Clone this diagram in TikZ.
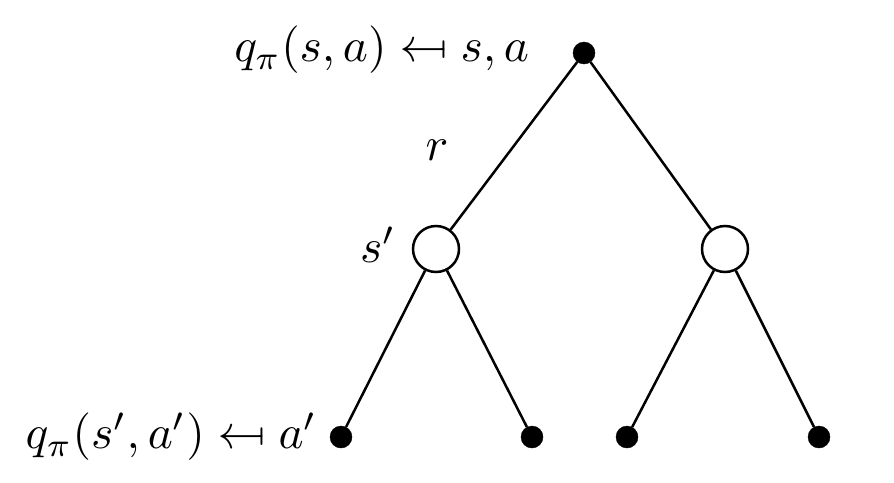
\documentclass[tikz,border=0pt]{standalone}
\usepackage{graphicx}
\newcommand{\myfrom}{\mathrel{\reflectbox{$\mapsto$}}}
\tikzset{
  leaf/.style={circle,fill=black,draw=black,inner sep=0pt,minimum size=22pt},
  chance/.style={circle,fill=white,draw=black,line width=2.5pt,inner sep=0pt,minimum size=46pt},
  edge/.style={line width=2.5pt},
  lbl/.style={inner sep=0pt,scale=4.75}
}
\begin{document}
\begin{tikzpicture}[x=1pt,y=-1pt]
\useasboundingbox (0,0) rectangle (894,482);
\node[leaf] (root) at (584,53) {};
\node[chance] (c1) at (436,249) {};
\node[chance] (c2) at (725,249) {};
\node[leaf] (l1) at (341,437) {};
\node[leaf] (l2) at (532,437) {};
\node[leaf] (l3) at (627,437) {};
\node[leaf] (l4) at (819,437) {};
\draw[edge] (root) -- (c1);
\draw[edge] (root) -- (c2);
\draw[edge] (c1) -- (l1);
\draw[edge] (c1) -- (l2);
\draw[edge] (c2) -- (l3);
\draw[edge] (c2) -- (l4);
\node[lbl,anchor=east] (t1) at (530,50) {$q_\pi(s,a)\myfrom s,a$};
\node[lbl,anchor=east] (t2) at (318,437) {$q_\pi(s',a')\myfrom a'$};
\node[lbl] (tr) at (437,150) {$r$};
\node[lbl] (ts) at (378,245) {$s'$};
\end{tikzpicture}
\end{document}
